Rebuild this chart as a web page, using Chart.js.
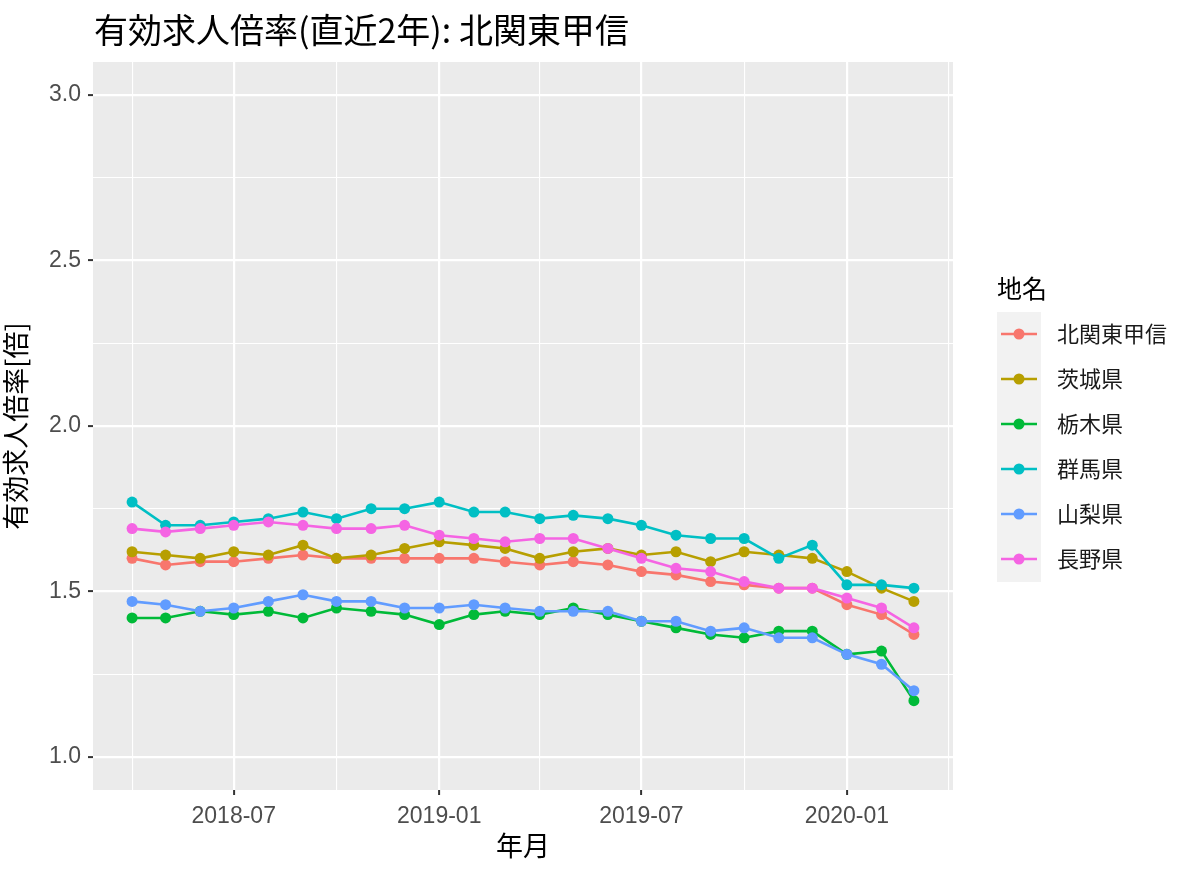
<!DOCTYPE html>
<html lang="ja">
<head>
<meta charset="utf-8">
<title>有効求人倍率(直近2年): 北関東甲信</title>
<script src="https://cdn.jsdelivr.net/npm/chart.js@4.4.1/dist/chart.umd.min.js"></script>
<style>
    html, body { margin: 0; padding: 0; background: #ffffff; }
    #wrap { width: 1200px; height: 876px; }
</style>
</head>
<body>
<div id="wrap"><canvas id="lineChart" width="1200" height="876"></canvas></div>
<script>
// months on the x axis (first of month)
var months = [
    '2018-04', '2018-05', '2018-06', '2018-07', '2018-08', '2018-09',
    '2018-10', '2018-11', '2018-12', '2019-01', '2019-02', '2019-03',
    '2019-04', '2019-05', '2019-06', '2019-07', '2019-08', '2019-09',
    '2019-10', '2019-11', '2019-12', '2020-01', '2020-02', '2020-03'
];
var regions = ['北関東甲信', '茨城県', '栃木県', '群馬県', '山梨県', '長野県'];
var colors = ['#F8766D', '#B79F00', '#00BA38', '#00BFC4', '#619CFF', '#F564E3'];

var kitaKantoKoshin = [1.60, 1.58, 1.59, 1.59, 1.60, 1.61, 1.60, 1.60, 1.60, 1.60, 1.60, 1.59,
                       1.58, 1.59, 1.58, 1.56, 1.55, 1.53, 1.52, 1.51, 1.51, 1.46, 1.43, 1.37];
var ibaraki = [1.62, 1.61, 1.60, 1.62, 1.61, 1.64, 1.60, 1.61, 1.63, 1.65, 1.64, 1.63,
               1.60, 1.62, 1.63, 1.61, 1.62, 1.59, 1.62, 1.61, 1.60, 1.56, 1.51, 1.47];
var tochigi = [1.42, 1.42, 1.44, 1.43, 1.44, 1.42, 1.45, 1.44, 1.43, 1.40, 1.43, 1.44,
               1.43, 1.45, 1.43, 1.41, 1.39, 1.37, 1.36, 1.38, 1.38, 1.31, 1.32, 1.17];
var gunma = [1.77, 1.70, 1.70, 1.71, 1.72, 1.74, 1.72, 1.75, 1.75, 1.77, 1.74, 1.74,
             1.72, 1.73, 1.72, 1.70, 1.67, 1.66, 1.66, 1.60, 1.64, 1.52, 1.52, 1.51];
var yamanashi = [1.47, 1.46, 1.44, 1.45, 1.47, 1.49, 1.47, 1.47, 1.45, 1.45, 1.46, 1.45,
                 1.44, 1.44, 1.44, 1.41, 1.41, 1.38, 1.39, 1.36, 1.36, 1.31, 1.28, 1.20];
var nagano = [1.69, 1.68, 1.69, 1.70, 1.71, 1.70, 1.69, 1.69, 1.70, 1.67, 1.66, 1.65,
              1.66, 1.66, 1.63, 1.60, 1.57, 1.56, 1.53, 1.51, 1.51, 1.48, 1.45, 1.39];
var seriesValues = [kitaKantoKoshin, ibaraki, tochigi, gunma, yamanashi, nagano];

// axis breaks
var xMajorTicks = ['2018-07', '2019-01', '2019-07', '2020-01'];
var xMinorTicks = ['2018-04', '2018-10', '2019-04', '2019-10', '2020-04'];
var yMajorTicks = [1.0, 1.5, 2.0, 2.5, 3.0];
var yMinorTicks = [1.25, 1.75, 2.25, 2.75];

var chartTitle = '有効求人倍率(直近2年): 北関東甲信';
var xTitle = '年月';
var yTitle = '有効求人倍率[倍]';
var legendTitle = '地名';

var tickFont = { family: '"Liberation Sans", "Noto Sans CJK JP", sans-serif', size: 23 };
var jpFont = '"Noto Sans CJK JP", "Liberation Sans", sans-serif';

function toDay(m) {
    var p = m.split('-');
    return Date.UTC(+p[0], +p[1] - 1, 1) / 86400000;
}
var xMajorDays = xMajorTicks.map(toDay);
var yMajorSet = yMajorTicks.map(function (v) { return v.toFixed(2); });

function isXMajor(v) { return xMajorDays.indexOf(v) >= 0; }
function isYMajor(v) { return yMajorSet.indexOf(Number(v).toFixed(2)) >= 0; }

var datasets = regions.map(function (name, i) {
    return {
        label: name,
        data: months.map(function (m, j) { return { x: toDay(m), y: seriesValues[i][j] }; }),
        borderColor: colors[i],
        backgroundColor: colors[i],
        pointBackgroundColor: colors[i],
        pointBorderWidth: 0,
        pointRadius: 5.5,
        borderWidth: 2.6,
        tension: 0,
        order: regions.length - 1 - i
    };
});

// grey panel behind the grid
var panelBackground = {
    id: 'panelBackground',
    beforeDraw: function (chart) {
        var a = chart.chartArea, ctx = chart.ctx;
        ctx.save();
        ctx.fillStyle = '#EBEBEB';
        ctx.fillRect(a.left, a.top, a.right - a.left, a.bottom - a.top);
        ctx.restore();
    }
};

// ggplot-like title and legend
var ggDecor = {
    id: 'ggDecor',
    afterDraw: function (chart) {
        var ctx = chart.ctx;
        ctx.save();
        ctx.fillStyle = '#000000';
        ctx.textBaseline = 'middle';
        ctx.textAlign = 'left';
        ctx.font = '34px ' + jpFont;
        ctx.fillText(chartTitle, 94, 30);

        ctx.font = '25px ' + jpFont;
        ctx.fillText(legendTitle, 997, 288);

        ctx.fillStyle = '#F2F2F2';
        ctx.fillRect(997, 312, 44, 270);

        regions.forEach(function (name, i) {
            var y = 334 + 45 * i;
            ctx.strokeStyle = colors[i];
            ctx.lineWidth = 2.6;
            ctx.beginPath();
            ctx.moveTo(1001, y);
            ctx.lineTo(1037, y);
            ctx.stroke();
            ctx.fillStyle = colors[i];
            ctx.beginPath();
            ctx.arc(1019, y, 5.5, 0, Math.PI * 2);
            ctx.fill();
            ctx.fillStyle = '#1A1A1A';
            ctx.font = '22px ' + jpFont;
            ctx.fillText(name, 1057, y);
        });
        ctx.restore();
    }
};

var xMin = toDay(months[0]) - 35;
var xMax = toDay(months[months.length - 1]) + 35;

var lineConfig = {
    type: 'line',
    data: { datasets: datasets },
    options: {
        responsive: false,
        animation: false,
        events: [],
        devicePixelRatio: 1,
        layout: { padding: { top: 62, right: 247, bottom: 0, left: 0 } },
        plugins: {
            legend: { display: false },
            tooltip: { enabled: false }
        },
        scales: {
            x: {
                type: 'linear',
                min: xMin,
                max: xMax,
                afterBuildTicks: function (scale) {
                    scale.ticks = xMinorTicks.concat(xMajorTicks).map(toDay)
                        .sort(function (a, b) { return a - b; })
                        .map(function (v) { return { value: v }; });
                },
                afterFit: function (scale) { scale.height = 86; },
                ticks: {
                    autoSkip: false,
                    maxRotation: 0,
                    color: '#4D4D4D',
                    font: tickFont,
                    padding: 8,
                    callback: function (value) {
                        var i = xMajorDays.indexOf(value);
                        return i >= 0 ? xMajorTicks[i] : '';
                    }
                },
                grid: {
                    color: '#FFFFFF',
                    lineWidth: function (c) { return c.tick && isXMajor(c.tick.value) ? 2.2 : 1.1; },
                    tickColor: function (c) { return c.tick && isXMajor(c.tick.value) ? '#333333' : 'rgba(0,0,0,0)'; },
                    tickLength: 5,
                    tickWidth: 2
                },
                border: { display: false },
                title: {
                    display: true,
                    text: xTitle,
                    color: '#000000',
                    font: { family: jpFont, size: 27 },
                    padding: { top: 0, bottom: 14 }
                }
            },
            y: {
                type: 'linear',
                min: 0.9,
                max: 3.1,
                afterBuildTicks: function (scale) {
                    scale.ticks = yMinorTicks.concat(yMajorTicks)
                        .sort(function (a, b) { return a - b; })
                        .map(function (v) { return { value: v }; });
                },
                afterFit: function (scale) { scale.width = 93; },
                ticks: {
                    color: '#4D4D4D',
                    font: tickFont,
                    padding: 7,
                    callback: function (value) {
                        return isYMajor(value) ? Number(value).toFixed(1) : '';
                    }
                },
                grid: {
                    color: '#FFFFFF',
                    lineWidth: function (c) { return c.tick && isYMajor(c.tick.value) ? 2.2 : 1.1; },
                    tickColor: function (c) { return c.tick && isYMajor(c.tick.value) ? '#333333' : 'rgba(0,0,0,0)'; },
                    tickLength: 5,
                    tickWidth: 2
                },
                border: { display: false },
                title: {
                    display: true,
                    text: yTitle,
                    color: '#000000',
                    font: { family: jpFont, size: 27 },
                    padding: { top: 0, bottom: 0 }
                }
            }
        }
    },
    plugins: [panelBackground, ggDecor]
};

window.onload = function () {
    window.myLine = new Chart(document.getElementById('lineChart'), lineConfig);
};
</script>
</body>
</html>
